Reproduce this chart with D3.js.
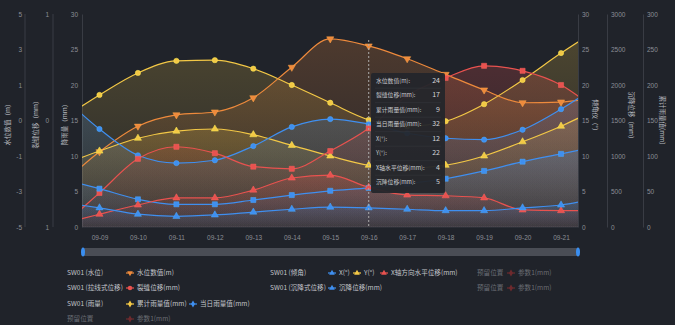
<!DOCTYPE html>
<html><head><meta charset="utf-8">
<script src="https://cdn.jsdelivr.net/npm/d3@7/dist/d3.min.js"></script>
<style>
html,body{margin:0;padding:0;background:#20232a;}
svg{display:block;font-family:"Noto Sans CJK SC","Noto Sans",sans-serif;}
</style></head>
<body><svg id="c" width="675" height="325"></svg>
<script>
// ---- data (values read on the 0–30 rainfall axis) ----
const dates = ["09-08","09-09","09-10","09-11","09-12","09-13","09-14","09-15","09-16","09-17","09-18","09-19","09-20","09-21","09-22"];
const visibleDates = ["09-09","09-10","09-11","09-12","09-13","09-14","09-15","09-16","09-17","09-18","09-19","09-20","09-21"];
const waterLevel = [5.9,10.6,14.2,15.8,16.2,18.2,22.5,26.5,25.5,23.7,21.5,19.3,17.5,17.6,18.3];
const crackDisp  = [0.0,4.8,9.6,11.3,10.4,8.5,8.2,10.7,13.9,18.5,21.0,22.7,22.0,20.0,16.1];
const cumRain    = [15.1,18.6,21.7,23.4,23.5,22.3,20.0,17.5,15.1,14.2,14.9,17.3,20.7,24.5,28.0];
const dailyRain  = [18.6,13.8,10.1,9.0,9.4,11.4,14.1,15.2,14.5,13.2,12.5,12.3,13.7,16.6,20.1];
const tiltX      = [3.5,2.7,1.8,1.5,1.7,2.1,2.5,2.8,2.7,2.5,2.3,2.3,2.7,3.1,4.1];
const tiltY      = [8.7,10.7,12.5,13.5,13.8,13.0,11.5,10.0,8.7,8.3,8.7,10.0,12.0,14.2,16.8];
const hDisp      = [0.4,1.8,3.1,4.1,4.1,5.2,6.9,7.3,5.6,4.5,4.4,4.1,2.4,2.3,2.3];
const settleDisp = [6.8,5.4,3.9,3.2,3.2,3.8,4.5,5.1,5.5,6.1,6.8,7.9,9.2,10.3,11.4];

const waterTicks = ["5","3","1","0","-1","-3","-5"];
const crackTicks = ["1","0","1"];
const rainTicks = [0,5,10,15,20,25,30];
const tiltTicks = [0,5,10,15,20,25,30];
const settleTicks = [0,500,1000,1500,2000,2500,3000];
const cumTicks = [0,50,100,150,200,250,300];

const tooltipLabels = ["水位数值(m):","裂缝位移(mm):","累计雨量值(mm):","当日雨量值(mm):","X(°):","Y(°):","X轴水平位移(mm):","沉降位移(mm):"];
const tooltipValues = [24,17,9,32,12,22,4,5];
const hoverDate = "09-16";

const C = {orange:"#ee8a3c", yellow:"#f3c846", red:"#e8524f", blue:"#3f8ff0", dred:"#8e2f33"};

const series = [
  {name:"累计雨量值(mm)", data:cumRain, color:C.yellow, sym:"circle"},
  {name:"水位数值(m)", data:waterLevel, color:C.orange, sym:"tridown"},
  {name:"Y(°)", data:tiltY, color:C.yellow, sym:"tri"},
  {name:"当日雨量值(mm)", data:dailyRain, color:C.blue, sym:"circle"},
  {name:"裂缝位移(mm)", data:crackDisp, color:C.red, sym:"square"},
  {name:"沉降位移(mm)", data:settleDisp, color:C.blue, sym:"square"},
  {name:"X轴方向水平位移(mm)", data:hDisp, color:C.red, sym:"tri"},
  {name:"X(°)", data:tiltX, color:C.blue, sym:"tri"}
];

// ---- layout ----
const L = 82, R = 578, T = 14, B = 227;
const svg = d3.select("#c");
const axisCol = "#393c44", labCol = "#8b8e95";

const x = d3.scalePoint().domain(dates).range([61, 599.5]);
const y = d3.scaleLinear().domain([0,30]).range([B,T]);
const yWater = d3.scalePoint().domain(waterTicks).range([T,B]);
const yCrack = d3.scalePoint().domain(crackTicks.map((d,i)=>i)).range([T,B]);
const yTilt = d3.scaleLinear().domain([0,30]).range([B,T]);
const ySettle = d3.scaleLinear().domain([0,3000]).range([B,T]);
const yCum = d3.scaleLinear().domain([0,300]).range([B,T]);
const fmt = d3.format("d");

const defs = svg.append("defs");
defs.append("clipPath").attr("id","clip").append("rect").attr("x",L).attr("y",0).attr("width",R-L).attr("height",B);

// ---- axes ----
function styleAxis(g){
  g.select(".domain").attr("stroke",axisCol);
  g.selectAll(".tick line").remove();
  g.selectAll(".tick text").attr("fill",labCol).attr("font-size",6.5);
}
svg.append("g").attr("transform","translate(25,0)")
  .call(d3.axisLeft(yWater).tickSize(0).tickPadding(3)).call(styleAxis)
  .call(g=>g.select(".domain").attr("d",`M0,${T}V${B}`));
svg.append("g").attr("transform","translate(53,0)")
  .call(d3.axisLeft(yCrack).tickSize(0).tickPadding(4).tickFormat(i=>crackTicks[i])).call(styleAxis)
  .call(g=>g.select(".domain").attr("d",`M0,${T}V${B}`));
svg.append("g").attr("transform",`translate(${L},0)`)
  .call(d3.axisLeft(y).tickValues(rainTicks).tickFormat(fmt).tickSize(0).tickPadding(4)).call(styleAxis);
svg.append("g").attr("transform",`translate(${R},0)`)
  .call(d3.axisRight(yTilt).tickValues(tiltTicks).tickFormat(fmt).tickSize(0).tickPadding(4)).call(styleAxis);
svg.append("g").attr("transform","translate(607,0)")
  .call(d3.axisRight(ySettle).tickValues(settleTicks).tickFormat(fmt).tickSize(0).tickPadding(4)).call(styleAxis);
svg.append("g").attr("transform","translate(643,0)")
  .call(d3.axisRight(yCum).tickValues(cumTicks).tickFormat(fmt).tickSize(0).tickPadding(4)).call(styleAxis);

const titles = [
  {t:"水位数值（m）", x:8, y:123, r:-90},
  {t:"裂缝位移（mm）", x:36, y:123, r:-90},
  {t:"降雨量（mm）", x:65, y:123, r:-90},
  {t:"倾角仪（°）", x:595, y:117, r:90},
  {t:"沉降位移（mm）", x:631, y:117, r:90},
  {t:"累计雨量值(mm)", x:662, y:120, r:90}
];
svg.selectAll(".ttl").data(titles).enter().append("text")
  .attr("transform",d=>`translate(${d.x},${d.y}) rotate(${d.r})`)
  .attr("text-anchor","middle").attr("dominant-baseline","middle")
  .attr("fill","#b5b8be").attr("font-size",6.5).text(d=>d.t);

// x axis
svg.append("g").attr("transform",`translate(0,${B})`)
  .call(d3.axisBottom(x).tickValues(visibleDates).tickSize(0).tickPadding(8)).call(styleAxis)
  .call(g=>g.select(".domain").attr("d",`M${L},0H${R}`));

// ---- areas & lines ----
const plot = svg.append("g").attr("clip-path","url(#clip)");
const curve = d3.curveMonotoneX;
const area = d3.area().x((d,i)=>x(dates[i])).y0(B).y1(d=>y(d)).curve(curve);
const line = d3.line().x((d,i)=>x(dates[i])).y(d=>y(d)).curve(curve);

series.forEach((s,k)=>{
  const gid = "g"+k;
  const gr = defs.append("linearGradient").attr("id",gid).attr("x1",0).attr("y1",0).attr("x2",0).attr("y2",1);
  gr.append("stop").attr("offset","0%").attr("stop-color",s.color).attr("stop-opacity",0.22);
  gr.append("stop").attr("offset","100%").attr("stop-color",s.color).attr("stop-opacity",0.03);
  plot.append("path").attr("d",area(s.data)).attr("fill",`url(#${gid})`);
});
series.forEach(s=>{
  plot.append("path").attr("d",line(s.data)).attr("fill","none").attr("stroke",s.color).attr("stroke-width",1.2);
});

// markers
const symGen = {
  circle: d3.symbol().type(d3.symbolCircle).size(22),
  square: d3.symbol().type(d3.symbolSquare).size(26),
  tri: d3.symbol().type(d3.symbolTriangle).size(22),
  tridown: d3.symbol().type(d3.symbolTriangle).size(22)
};
series.forEach(s=>{
  plot.selectAll(null).data(s.data.map((v,i)=>({v,d:dates[i]})).filter(p=>visibleDates.includes(p.d)))
    .enter().append("path")
    .attr("d",symGen[s.sym]())
    .attr("transform",p=>`translate(${x(p.d)},${y(p.v)})${s.sym==="tridown"?" rotate(180)":""}`)
    .attr("fill",s.color).attr("stroke",d3.color(s.color).brighter(0.5)).attr("stroke-width",0.5);
});

// axis pointer
svg.append("line").attr("x1",x(hoverDate)).attr("x2",x(hoverDate)).attr("y1",40).attr("y2",B)
  .attr("stroke","#aaaaaa").attr("stroke-width",1).attr("stroke-dasharray","2,2");

// tooltip
const tt = svg.append("g").attr("transform","translate(371,73)");
tt.append("rect").attr("width",74).attr("height",120).attr("rx",2).attr("fill","#24262b").attr("fill-opacity",0.95);
tooltipLabels.forEach((lab,i)=>{
  const yy = 8 + i*14.5;
  tt.append("text").attr("x",5).attr("y",yy).attr("dominant-baseline","middle").attr("fill","#c9cbcf").attr("font-size",5.8).text(lab);
  tt.append("text").attr("x",69).attr("y",yy).attr("text-anchor","end").attr("dominant-baseline","middle").attr("fill","#d4d6da").attr("font-size",7).text(tooltipValues[i]);
  if(i<tooltipLabels.length-1) tt.append("line").attr("x1",4).attr("x2",70).attr("y1",yy+7.2).attr("y2",yy+7.2).attr("stroke","#34363c").attr("stroke-width",0.6);
});

// data zoom slider
svg.append("rect").attr("x",L).attr("y",248).attr("width",R-L).attr("height",8).attr("rx",1).attr("fill","#4a4d55");
[L+1,R].forEach(cx=>svg.append("ellipse").attr("cx",cx).attr("cy",252).attr("rx",2).attr("ry",4.5).attr("fill","#3a8ef0"));

// ---- legend ----
const legendGroups = [
  {label:"SW01 (水位)", x:67, y:273, items:[{n:"水位数值(m)", c:C.orange, s:"tridown", x:130}]},
  {label:"SW01 (拉线式位移)", x:67, y:288, items:[{n:"裂缝位移(mm)", c:C.red, s:"circle", x:130}]},
  {label:"SW01 (雨量)", x:67, y:304, items:[{n:"累计雨量值(mm)", c:C.yellow, s:"diamond", x:130},{n:"当日雨量值(mm)", c:C.blue, s:"diamond", x:193}]},
  {label:"预留位置", x:67, y:319, dim:true, items:[{n:"参数1(mm)", c:C.dred, s:"diamond", x:130, dim:true}]},
  {label:"SW01 (倾角)", x:270, y:273, items:[{n:"X(°)", c:C.blue, s:"tri", x:332},{n:"Y(°)", c:C.yellow, s:"tri", x:357},{n:"X轴方向水平位移(mm)", c:C.red, s:"tri", x:384}]},
  {label:"SW01 (沉降式位移)", x:270, y:288, items:[{n:"沉降位移(mm)", c:C.blue, s:"tri", x:332}]},
  {label:"预留位置", x:477, y:273, dim:true, items:[{n:"参数1(mm)", c:C.dred, s:"diamond", x:511, dim:true}]},
  {label:"预留位置", x:477, y:288, dim:true, items:[{n:"参数1(mm)", c:C.dred, s:"diamond", x:511, dim:true}]}
];
const legSym = {
  circle: d3.symbol().type(d3.symbolCircle).size(16),
  diamond: d3.symbol().type(d3.symbolDiamond).size(14),
  tri: d3.symbol().type(d3.symbolTriangle).size(14),
  tridown: d3.symbol().type(d3.symbolTriangle).size(14)
};
const lg = svg.append("g");
legendGroups.forEach(g=>{
  lg.append("text").attr("x",g.x).attr("y",g.y).attr("dominant-baseline","middle")
    .attr("fill",g.dim?"#6b6e75":"#c3c5ca").attr("font-size",6.6).text(g.label);
  g.items.forEach(it=>{
    const col = it.dim ? "#6e2a2e" : it.c;
    lg.append("line").attr("x1",it.x-4).attr("x2",it.x+4).attr("y1",g.y).attr("y2",g.y).attr("stroke",col).attr("stroke-width",1.2);
    lg.append("path").attr("d",legSym[it.s]()).attr("transform",`translate(${it.x},${g.y})${it.s==="tridown"?" rotate(180)":""}`).attr("fill",col);
    lg.append("text").attr("x",it.x+7).attr("y",g.y).attr("dominant-baseline","middle")
      .attr("fill",it.dim?"#6b6e75":"#c3c5ca").attr("font-size",6.6).text(it.n);
  });
});
</script></body></html>
